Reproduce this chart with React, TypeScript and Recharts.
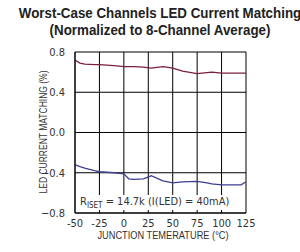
import { LineChart, Line, XAxis, YAxis, CartesianGrid } from 'recharts'

const temps = [-50, -45, -40, -30, -25, -10, 0, 5, 10, 20, 28, 40, 50, 60, 75, 85, 90, 100, 110, 120, 125]
const worstHigh = [0.72, 0.69, 0.68, 0.675, 0.675, 0.665, 0.655, 0.655, 0.655, 0.65, 0.64, 0.655, 0.64, 0.61, 0.585, 0.595, 0.6, 0.59, 0.59, 0.59, 0.59]
const worstLow = [-0.32, -0.34, -0.355, -0.38, -0.39, -0.4, -0.41, -0.46, -0.465, -0.46, -0.43, -0.48, -0.5, -0.49, -0.485, -0.5, -0.51, -0.52, -0.52, -0.52, -0.49]
const xTicks = [-50, -25, 0, 25, 50, 75, 100, 125]
const yTicks = [-0.8, -0.4, 0, 0.4, 0.8]

const data = temps.map((t, i) => ({ t, high: worstHigh[i], low: worstLow[i] }))

const narrow = '"DejaVu Sans Condensed", "Liberation Sans Narrow", Arial, sans-serif'
const plain = '"Liberation Sans", Arial, sans-serif'

const fmtY = (v: number) => v.toFixed(1).replace('-', '\u2212')

export default function App() {
  return (
    <div style={{ position: 'absolute', left: 0, top: 0, width: 300, height: 252, background: '#fff', fontFamily: plain, overflow: 'hidden' }}>
      <div
        style={{
          position: 'absolute', top: 4, left: 0, width: 300, display: 'flex', justifyContent: 'center',
          transform: 'translateX(10px) scaleX(0.89)',
        }}
      >
        <div style={{ textAlign: 'center', fontWeight: 'bold', fontSize: 15, lineHeight: '17px', color: '#222', whiteSpace: 'nowrap' }}>
          Worst-Case Channels LED Current Matching
          <br />
          (Normalized to 8-Channel Average)
        </div>
      </div>
      <LineChart width={300} height={252} data={data} margin={{ top: 52, right: 54, left: 36, bottom: 19 }}>
        <CartesianGrid stroke="#000" strokeWidth={1} />
        <XAxis
          dataKey="t"
          type="number"
          domain={[-50, 125]}
          ticks={xTicks}
          height={20}
          axisLine={{ stroke: '#000' }}
          tickLine={false}
          tick={{ fontSize: 11, fill: '#333', fontFamily: narrow }}
          tickMargin={0}
          interval={0}
        />
        <YAxis
          type="number"
          domain={[-0.8, 0.8]}
          ticks={yTicks}
          width={39}
          axisLine={{ stroke: '#000' }}
          tickLine={false}
          tickFormatter={fmtY}
          tick={{ fontSize: 11, fill: '#333', fontFamily: narrow }}
          tickMargin={4}
          interval={0}
        />
        <Line dataKey="high" stroke="#7a1f3d" strokeWidth={1.3} dot={false} isAnimationActive={false} />
        <Line dataKey="low" stroke="#3d3f8f" strokeWidth={1.3} dot={false} isAnimationActive={false} />
      </LineChart>
      <div
        style={{
          position: 'absolute', left: 43, top: 132, fontSize: 10, color: '#333', whiteSpace: 'nowrap',
          transform: 'translate(-50%, -50%) rotate(-90deg) scaleX(0.85)',
        }}
      >
        LED CURRENT MATCHING (%)
      </div>
      <div
        style={{
          position: 'absolute', left: 163, top: 235, fontSize: 10.5, color: '#333', whiteSpace: 'nowrap',
          transform: 'translate(-50%, -50%) scaleX(0.88)',
        }}
      >
        JUNCTION TEMERATURE (°C)
      </div>
      <div style={{ position: 'absolute', left: 80, top: 195, fontSize: 11, color: '#333', background: '#fff', whiteSpace: 'nowrap', fontFamily: narrow }}>
        R<sub style={{ fontSize: 8 }}>ISET</sub> = 14.7k (I(LED) = 40mA)
      </div>
    </div>
  )
}
